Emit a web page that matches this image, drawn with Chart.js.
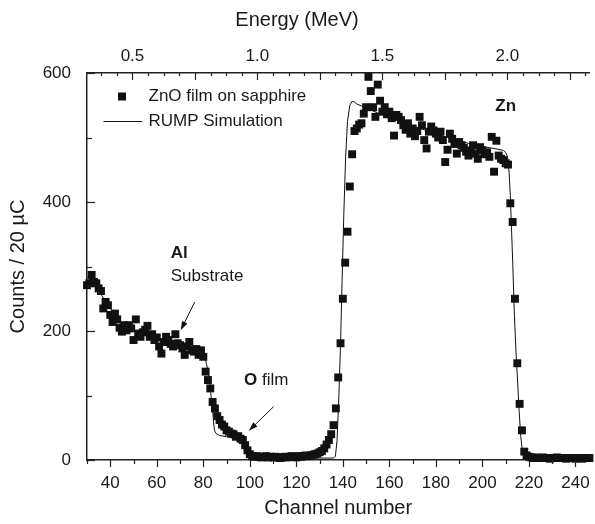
<!DOCTYPE html>
<html><head><meta charset="utf-8">
<script src="https://cdn.jsdelivr.net/npm/chart.js@4.4.0/dist/chart.umd.min.js"></script>
<style>html,body{margin:0;padding:0;background:#fff}</style>
</head><body>
<canvas id="c" width="595" height="524"></canvas>
<script>
// Measured spectrum (channel, counts)
const channels = [
 30,31,32,33,34,35,36,37,38,39,
 40,41,42,43,44,45,46,47,48,49,
 50,51,52,53,54,55,56,57,58,59,
 60,61,62,63,64,65,66,67,68,69,
 70,71,72,73,74,75,76,77,78,79,
 80,81,82,83,84,85,86,87,88,89,
 90,91,92,93,94,95,96,97,98,99,
 100,101,102,103,104,105,106,107,108,109,
 110,111,112,113,114,115,116,117,118,119,
 120,121,122,123,124,125,126,127,128,129,
 130,131,132,133,134,135,136,137,138,139,
 140,141,142,143,144,145,146,147,148,149,
 150,151,152,153,154,155,156,157,158,159,
 160,161,162,163,164,165,166,167,168,169,
 170,171,172,173,174,175,176,177,178,179,
 180,181,182,183,184,185,186,187,188,189,
 190,191,192,193,194,195,196,197,198,199,
 200,201,202,203,204,205,206,207,208,209,
 210,211,212,213,214,215,216,217,218,219,
 220,221,222,223,224,225,226,227,228,229,
 230,231,232,233,234,235,236,237,238,239,
 240,241,242,243,244,245,246
];
const counts = [
 271,274,287,276,274,266,262,235,245,240,
 225,214,227,218,205,199,209,201,209,204,
 186,218,196,191,198,202,208,191,195,186,
 190,176,165,183,191,186,180,176,195,181,
 178,173,163,176,183,170,168,172,163,170,
 160,137,124,111,90,80,68,62,55,52,
 46,44,41,40,36,37,33,31,23,15,
 9,6,5,6,5,4,5,6,4,5,
 4,5,4,3,4,5,4,5,6,5,
 4,6,5,6,7,6,7,8,9,10,
 12,14,18,24,31,40,54,80,128,181,
 250,306,354,424,474,510,514,520,522,537,
 547,594,572,547,532,582,557,540,547,536,
 540,530,503,535,532,527,519,512,522,506,
 514,502,510,532,519,496,483,509,517,511,
 506,500,509,496,462,481,506,498,490,475,
 493,488,484,478,472,480,488,475,467,485,
 480,474,477,470,501,447,495,472,467,465,
 460,458,398,369,250,150,87,46,13,7,
 5,4,3,4,3,3,4,3,3,2,
 3,3,4,3,3,3,2,3,3,3,
 2,3,3,2,3,3,3
];
// RUMP simulation curve
const simChannels = [
 30,32,34,36,38,40,42,44,46,48,50,52,55,60,65,70,75,78,79.5,80.5,
 81.3,82,82.7,83.3,83.9,84.4,84.8,85.5,87,90,94,97,97.8,98.6,99.4,100.2,101,
 136,136.8,137.5,138.3,139,139.7,140.4,141.2,142,143,144,145,146,148,150,
 155,160,165,170,175,180,185,190,195,200,205,209,210,210.8,211.5,212,212.5,
 213,213.7,214.4,215.1,215.8,216.5,217.2,218,219,246
];
const simCounts = [
 283,277,268,257,246,235,225,216,209,204,200,197,193,188,184,180,176,173,170,163,
 150,138,124,100,83,60,46,41,38,36,35,33,28,18,9,4,3,
 3,6,30,100,180,280,380,470,525,550,556,555,552,549,546,
 538,531,524,518,512,506,500,495,490,486,483,480,477,470,445,410,360,
 310,230,170,124,75,36,14,4,2,2
];
const channelTicks = [40,60,80,100,120,140,160,180,200,220,240];
const energyTicks = [0.5,1.0,1.5,2.0];
const countTicks = [0,200,400,600];

const FONT = "'Liberation Sans', Arial, Helvetica, sans-serif";
const INK = '#1a1a1a';
Chart.defaults.font.family = FONT;
Chart.defaults.color = INK;

function arrow(ctx, x1, y1, x2, y2) {
  const a = Math.atan2(y2 - y1, x2 - x1);
  const L = 9, W = 3;
  ctx.beginPath();
  ctx.moveTo(x1, y1);
  ctx.lineTo(x2 - L * 0.6 * Math.cos(a), y2 - L * 0.6 * Math.sin(a));
  ctx.stroke();
  ctx.beginPath();
  ctx.moveTo(x2, y2);
  ctx.lineTo(x2 - L * Math.cos(a) + W * Math.sin(a), y2 - L * Math.sin(a) - W * Math.cos(a));
  ctx.lineTo(x2 - L * Math.cos(a) - W * Math.sin(a), y2 - L * Math.sin(a) + W * Math.cos(a));
  ctx.closePath();
  ctx.fill();
}

const decor = {
  id: 'decor',
  afterDraw(chart) {
    const ctx = chart.ctx;
    const xs = chart.scales.x, x2 = chart.scales.x2, ys = chart.scales.y;
    const ca = chart.chartArea;
    ctx.save();
    ctx.strokeStyle = '#222';
    ctx.fillStyle = INK;
    ctx.lineWidth = 1.2;
    // bottom ticks (outward)
    for (let c = 30; c <= xs.max; c += 10) {
      const px = Math.round(xs.getPixelForValue(c)) + 0.5;
      const len = (c % 20 === 0) ? 7 : 4;
      ctx.beginPath(); ctx.moveTo(px, ca.bottom); ctx.lineTo(px, ca.bottom + len); ctx.stroke();
    }
    // top ticks (inward)
    for (let k = 1; k * 0.0625 <= x2.max; k++) {
      const e = k * 0.0625;
      if (e < x2.min) continue;
      const px = Math.round(x2.getPixelForValue(e)) + 0.5;
      const len = (k % 4 === 0) ? 7 : 3;
      ctx.beginPath(); ctx.moveTo(px, ca.top); ctx.lineTo(px, ca.top + len); ctx.stroke();
    }
    // left ticks (inward)
    for (let v = 0; v <= 600; v += 100) {
      const py = Math.round(ys.getPixelForValue(v)) + 0.5;
      const len = (v % 200 === 0) ? 8 : 5;
      ctx.beginPath(); ctx.moveTo(ca.left, py); ctx.lineTo(ca.left + len, py); ctx.stroke();
    }
    // top axis title
    ctx.font = '20px ' + FONT;
    ctx.textAlign = 'center';
    ctx.textBaseline = 'middle';
    ctx.fillText('Energy (MeV)', ca.left + 210, 20);
    // legend
    ctx.font = '17px ' + FONT;
    ctx.textAlign = 'left';
    ctx.fillStyle = '#111';
    ctx.fillRect(ca.left + 35 - 4, ca.top + 23.5 - 4, 8, 8);
    ctx.fillStyle = INK;
    ctx.fillText('ZnO film on sapphire', ca.left + 61.5, ca.top + 23.5);
    ctx.lineWidth = 1;
    ctx.strokeStyle = '#111';
    ctx.beginPath(); ctx.moveTo(ca.left + 16.5, ca.top + 48.5); ctx.lineTo(ca.left + 55, ca.top + 48.5); ctx.stroke();
    ctx.fillText('RUMP Simulation', ca.left + 61.5, ca.top + 48.5);
    // annotations (placed in data coordinates)
    const P = (c, v) => [xs.getPixelForValue(c), ys.getPixelForValue(v)];
    let p = P(66, 321);
    ctx.font = 'bold 17px ' + FONT;
    ctx.fillText('Al', p[0], p[1]);
    p = P(66, 285);
    ctx.font = '17px ' + FONT;
    ctx.fillText('Substrate', p[0], p[1]);
    p = P(97.5, 124);
    ctx.font = 'bold 17px ' + FONT;
    ctx.fillText('O', p[0], p[1]);
    const ow = ctx.measureText('O ').width;
    ctx.font = '17px ' + FONT;
    ctx.fillText('film', p[0] + ow, p[1]);
    p = P(210, 548);
    ctx.font = 'bold 17px ' + FONT;
    ctx.textAlign = 'center';
    ctx.fillText('Zn', p[0], p[1]);
    ctx.lineWidth = 1;
    ctx.strokeStyle = '#111';
    ctx.fillStyle = '#111';
    let a = P(76.3, 245), b = P(70.3, 201);
    arrow(ctx, a[0], a[1], b[0], b[1]);
    a = P(110.2, 82.6); b = P(99.6, 45.4);
    arrow(ctx, a[0], a[1], b[0], b[1]);
    ctx.restore();
  }
};

new Chart(document.getElementById('c').getContext('2d'), {
  type: 'scatter',
  data: {
    datasets: [
      {
        label: 'ZnO film on sapphire',
        data: channels.map((c, i) => ({x: c, y: counts[i]})),
        pointStyle: 'rect', pointRadius: 5.6, pointHoverRadius: 5.6,
        backgroundColor: '#111', borderColor: '#111', borderWidth: 0,
        clip: false, order: 1
      },
      {
        label: 'RUMP Simulation', type: 'line',
        data: simChannels.map((c, i) => ({x: c, y: simCounts[i]})),
        showLine: true, pointRadius: 0, borderColor: '#111', borderWidth: 1,
        fill: false, tension: 0, order: 2
      }
    ]
  },
  options: {
    responsive: false, animation: false, devicePixelRatio: 1,
    layout: {padding: 0},
    plugins: {legend: {display: false}, tooltip: {enabled: false}},
    scales: {
      x: {
        type: 'linear', position: 'bottom', min: 30, max: 246,
        grid: {display: false, drawTicks: false},
        border: {display: true, color: '#222', width: 1.5},
        afterBuildTicks: s => { s.ticks = channelTicks.map(v => ({value: v})); },
        ticks: {padding: 13, font: {size: 17}, maxRotation: 0, autoSkip: false, color: INK},
        title: {display: true, text: 'Channel number', font: {size: 20}, color: INK, padding: {top: 0, bottom: 4}},
        afterFit: s => { s.height = 64; s.paddingLeft = 0; s.paddingRight = 0; }
      },
      x2: {
        type: 'linear', position: 'top', min: 0.318, max: 2.3287,
        grid: {display: false, drawTicks: false},
        border: {display: true, color: '#222', width: 1.5},
        afterBuildTicks: s => { s.ticks = energyTicks.map(v => ({value: v})); },
        ticks: {padding: 6, font: {size: 17}, maxRotation: 0, autoSkip: false, color: INK,
                callback: v => Number(v).toFixed(1)},
        title: {display: false},
        afterFit: s => { s.height = 73; s.paddingLeft = 0; s.paddingRight = 0; }
      },
      y: {
        type: 'linear', position: 'left', min: 0, max: 600,
        grid: {display: false, drawTicks: false},
        border: {display: true, color: '#222', width: 1.5},
        afterBuildTicks: s => { s.ticks = countTicks.map(v => ({value: v})); },
        ticks: {padding: 16, font: {size: 17}, autoSkip: false, color: INK},
        title: {display: true, text: 'Counts / 20 µC', font: {size: 20}, color: INK, padding: {top: 6, bottom: 0}},
        afterFit: s => { s.width = 87; s.paddingTop = 0; s.paddingBottom = 0; }
      }
    }
  },
  plugins: [decor]
});
</script>
</body></html>
